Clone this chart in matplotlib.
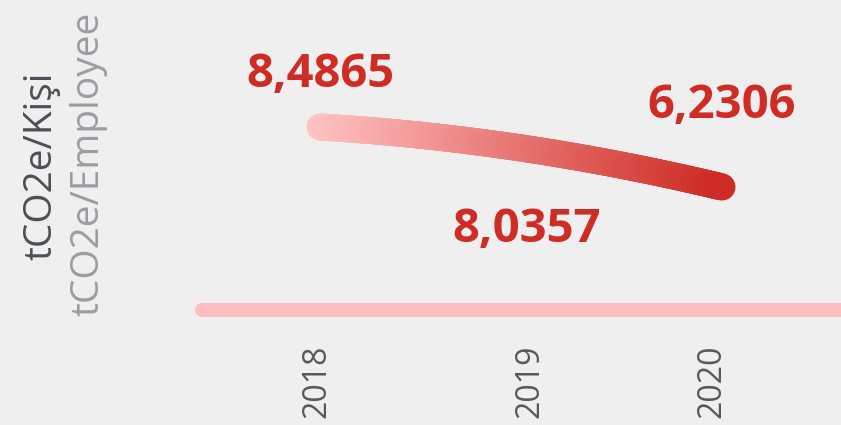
"""Emission intensity per employee, 2018-2020, drawn as a gradient curve."""

import matplotlib

matplotlib.use("Agg")
import matplotlib.pyplot as plt
import numpy as np
from matplotlib.collections import LineCollection
from matplotlib.colors import LinearSegmentedColormap
from matplotlib.transforms import blended_transform_factory

years = ["2018", "2019", "2020"]
values = [8.4865, 8.0357, 6.2306]
value_labels = ["8,4865", "8,0357", "6,2306"]
title_tr = "tCO2e/Kişi"
title_en = "tCO2e/Employee"

BG = "#efefef"
RED = "#cf2c26"
PINK = "#ffbcbc"

plt.rcParams["font.family"] = ["Open Sans", "DejaVu Sans"]

fig = plt.figure(figsize=(8.41, 4.25), dpi=100, facecolor=BG)
ax = fig.add_axes([0, 0, 1, 1])
ax.set_facecolor(BG)
ax.set_axis_off()

# x index -> pixel: 320 + 201*i ; value -> pixel: 127 + (8.4865 - v) * 26.59
ax.set_xlim(-320 / 201, (841 - 320) / 201)
ax.set_ylim(values[0] - (425 - 127) / 26.59, values[0] + 127 / 26.59)

x = np.arange(len(values), dtype=float)
y = np.array(values)

# quadratic bezier using the three yearly points as start/control/end
t = np.linspace(0, 1, 300)
bx = (1 - t) ** 2 * x[0] + 2 * (1 - t) * t * x[1] + t**2 * x[2]
by = (1 - t) ** 2 * y[0] + 2 * (1 - t) * t * y[1] + t**2 * y[2]
pts = np.column_stack([bx, by]).reshape(-1, 1, 2)
segs = np.concatenate([pts[:-1], pts[1:]], axis=1)
cmap = LinearSegmentedColormap.from_list("grad", ["#ffc3c3", RED])
lc = LineCollection(segs, colors=cmap(np.linspace(0, 1, len(segs))),
                    linewidths=19.5, capstyle="round", joinstyle="round")
ax.add_collection(lc)

# baseline
ax.plot([202 / 841, 1.05], [1 - 310 / 425] * 2, transform=ax.transAxes,
        color=PINK, linewidth=10, solid_capstyle="round", clip_on=False)

offsets = [(0, 38), (4, -65), (0, 59)]
for xi, yi, lab, off in zip(x, y, value_labels, offsets):
    ax.annotate(lab, (xi, yi), xytext=off, textcoords="offset points",
                ha="center", va="center", fontsize=34, fontweight="bold",
                color=RED)

trans = blended_transform_factory(ax.transData, ax.transAxes)
year_x = [317, 530, 712]
for yr, px in zip(years, year_x):
    ax.text((px - 320) / 201, 1 - 381 / 425, yr, transform=trans,
            rotation=90, ha="center", va="center", fontsize=23,
            color="#55595e")

fig.text(41 / 841, 1 - 166 / 425, title_tr, rotation=90, ha="center",
         va="center", fontsize=28, color="#4b5056")
fig.text(88 / 841, 1 - 164 / 425, title_en, rotation=90, ha="center",
         va="center", fontsize=28, color="#9a9ea3")

fig.savefig("out.png", dpi=100, facecolor=BG)
